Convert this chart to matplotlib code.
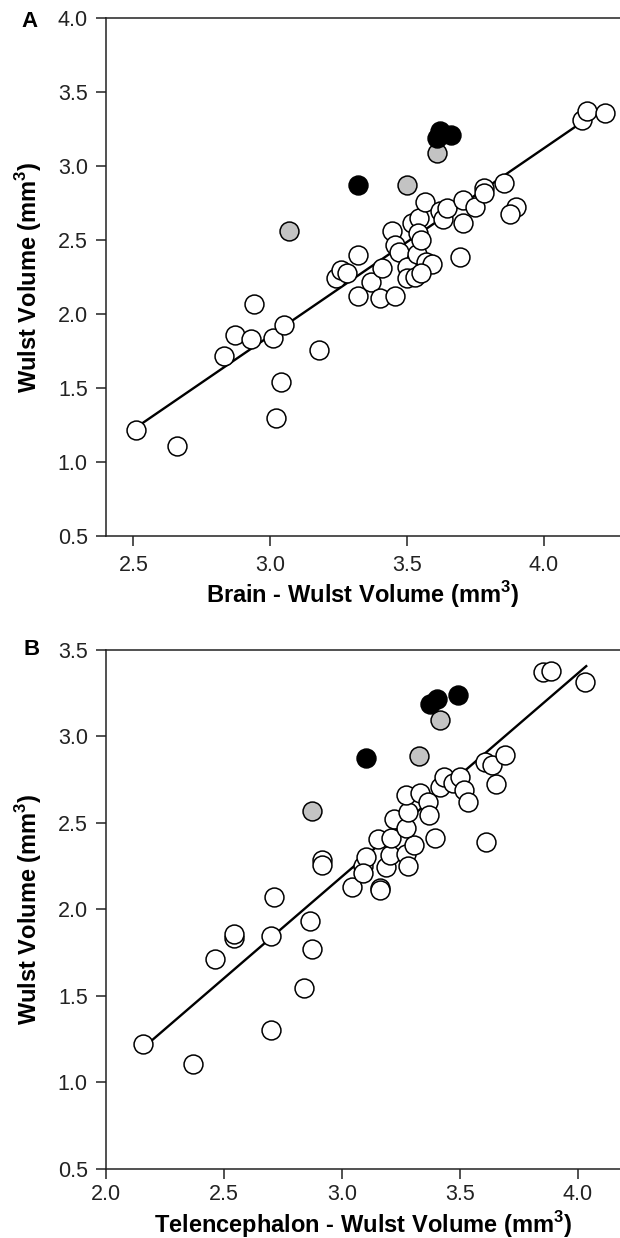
import numpy as np
import matplotlib
matplotlib.use("Agg")
import matplotlib.pyplot as plt

plt.rcParams['font.family'] = ['Liberation Sans', 'DejaVu Sans']
plt.rcParams['mathtext.fontset'] = 'custom'
plt.rcParams['mathtext.rm'] = 'Liberation Sans'
plt.rcParams['mathtext.bf'] = 'Liberation Sans:bold'

# --- Panel A: Brain - Wulst volume vs Wulst volume ---
a_white_x = [2.51, 2.66, 2.83, 2.87, 2.93, 2.94, 3.01, 3.05, 3.04, 3.02, 3.18,
             3.24, 3.26, 3.28, 3.32, 3.32, 3.37, 3.40, 3.41, 3.445, 3.455, 3.455,
             3.47, 3.50, 3.50, 3.53, 3.535, 3.57, 3.59, 3.55, 3.52, 3.545, 3.565,
             3.54, 3.55, 3.62, 3.63, 3.645, 3.705, 3.705, 3.695, 3.75, 3.78, 3.78,
             3.855, 3.90, 3.875, 4.14, 4.16, 4.225]
a_white_y = [1.22, 1.11, 1.72, 1.86, 1.83, 2.07, 1.84, 1.93, 1.54, 1.30, 1.76,
             2.245, 2.30, 2.28, 2.40, 2.12, 2.22, 2.11, 2.31, 2.56, 2.12, 2.465,
             2.42, 2.32, 2.245, 2.25, 2.41, 2.35, 2.34, 2.28, 2.615, 2.65, 2.76,
             2.55, 2.50, 2.70, 2.64, 2.715, 2.77, 2.615, 2.385, 2.725, 2.85, 2.82,
             2.885, 2.725, 2.675, 3.315, 3.37, 3.36]
a_gray_x = [3.07, 3.50, 3.61]
a_gray_y = [2.56, 2.875, 3.09]
a_black_x = [3.32, 3.61, 3.62, 3.66]
a_black_y = [2.875, 3.19, 3.235, 3.21]
a_fit_x = [2.51, 4.15]
a_fit_y = [1.235, 3.31]

# --- Panel B: Telencephalon - Wulst volume vs Wulst volume ---
b_white_x = [2.157, 2.372, 2.464, 2.543, 2.543, 2.700, 2.714, 2.700, 2.839, 2.867,
             2.874, 2.917, 2.917, 3.045, 3.161, 3.16, 3.088, 3.102, 3.09, 3.154,
             3.189, 3.206, 3.210, 3.220, 3.271, 3.281, 3.305, 3.271, 3.281, 3.274,
             3.331, 3.366, 3.370, 3.394, 3.418, 3.432, 3.472, 3.500, 3.517, 3.535,
             3.610, 3.606, 3.634, 3.653, 3.691, 3.854, 3.884, 4.030]
b_white_y = [1.222, 1.105, 1.715, 1.832, 1.859, 1.843, 2.072, 1.300, 1.543, 1.934,
             1.769, 2.284, 2.256, 2.131, 2.121, 2.11, 2.250, 2.304, 2.21, 2.405,
             2.246, 2.314, 2.410, 2.520, 2.320, 2.250, 2.372, 2.468, 2.564, 2.661,
             2.671, 2.622, 2.545, 2.410, 2.705, 2.767, 2.728, 2.767, 2.690, 2.622,
             2.391, 2.853, 2.834, 2.724, 2.892, 3.37, 3.379, 3.312]
b_gray_x = [2.872, 3.329, 3.415]
b_gray_y = [2.566, 2.883, 3.093]
b_black_x = [3.104, 3.374, 3.402, 3.494]
b_black_y = [2.877, 3.184, 3.214, 3.237]
b_fit_x = [2.16, 4.035]
b_fit_y = [1.20, 3.405]

fig = plt.figure(figsize=(6.2, 12.38), dpi=100)
ax_a = fig.add_axes([0.1703, 0.5669, 0.8297, 0.4184])
ax_b = fig.add_axes([0.1703, 0.0559, 0.8297, 0.4193])

mk = dict(marker='o', s=185, linewidths=1.1, edgecolors='black', zorder=3)


def draw_panel(ax, wx, wy, gx, gy, kx, ky, fx, fy, xlim, xticks, ylim, yticks,
               xlabel, letter, xpad, xlab_y, letter_xy):
    ax.plot(fx, fy, color='black', lw=1.7, zorder=2)
    ax.scatter(wx, wy, facecolors='white', **mk)
    ax.scatter(gx, gy, facecolors='#c3c3c3', **mk)
    ax.scatter(kx, ky, facecolors='black', **mk)
    ax.set_xlim(xlim)
    ax.set_ylim(ylim)
    ax.set_xticks(xticks)
    ax.set_yticks(yticks)
    ax.set_xticklabels([f'{t:.1f}' for t in xticks])
    ax.set_yticklabels([f'{t:.1f}' for t in yticks])
    ax.spines['right'].set_visible(False)
    for sp in ['left', 'top', 'bottom']:
        ax.spines[sp].set_linewidth(1.1)
        ax.spines[sp].set_color('#222222')
    ax.tick_params(direction='out', length=7.3, width=1.1, labelsize=15.5,
                   colors='#222222')
    ax.tick_params(axis='y', pad=5.5)
    ax.tick_params(axis='x', pad=xpad)
    ax.set_xlabel(xlabel, fontsize=17, fontweight='bold')
    ax.set_ylabel(r'Wulst Volume (mm$^{\mathbf{3}}$)', fontsize=17,
                  fontweight='bold')
    ax.xaxis.set_label_coords(0.5, xlab_y)
    ax.yaxis.set_label_coords(-0.12, 0.5)
    ax.text(letter_xy[0], letter_xy[1], letter, transform=ax.transAxes,
            fontsize=16, fontweight='bold', ha='center', va='center')


draw_panel(ax_a, a_white_x, a_white_y, a_gray_x, a_gray_y, a_black_x, a_black_y,
           a_fit_x, a_fit_y, (2.398, 4.279), [2.5, 3.0, 3.5, 4.0],
           (0.5, 4.0), [0.5, 1.0, 1.5, 2.0, 2.5, 3.0, 3.5, 4.0],
           r'Brain - Wulst Volume (mm$^{\mathbf{3}}$)', 'A', 6.5, -0.082,
           (-0.147, 0.994))
draw_panel(ax_b, b_white_x, b_white_y, b_gray_x, b_gray_y, b_black_x, b_black_y,
           b_fit_x, b_fit_y, (2.0, 4.178), [2.0, 2.5, 3.0, 3.5, 4.0],
           (0.5, 3.5), [0.5, 1.0, 1.5, 2.0, 2.5, 3.0, 3.5],
           r'Telencephalon - Wulst Volume (mm$^{\mathbf{3}}$)', 'B', 3.5, -0.078,
           (-0.144, 1.0))

fig.savefig('out.png', dpi=100)
